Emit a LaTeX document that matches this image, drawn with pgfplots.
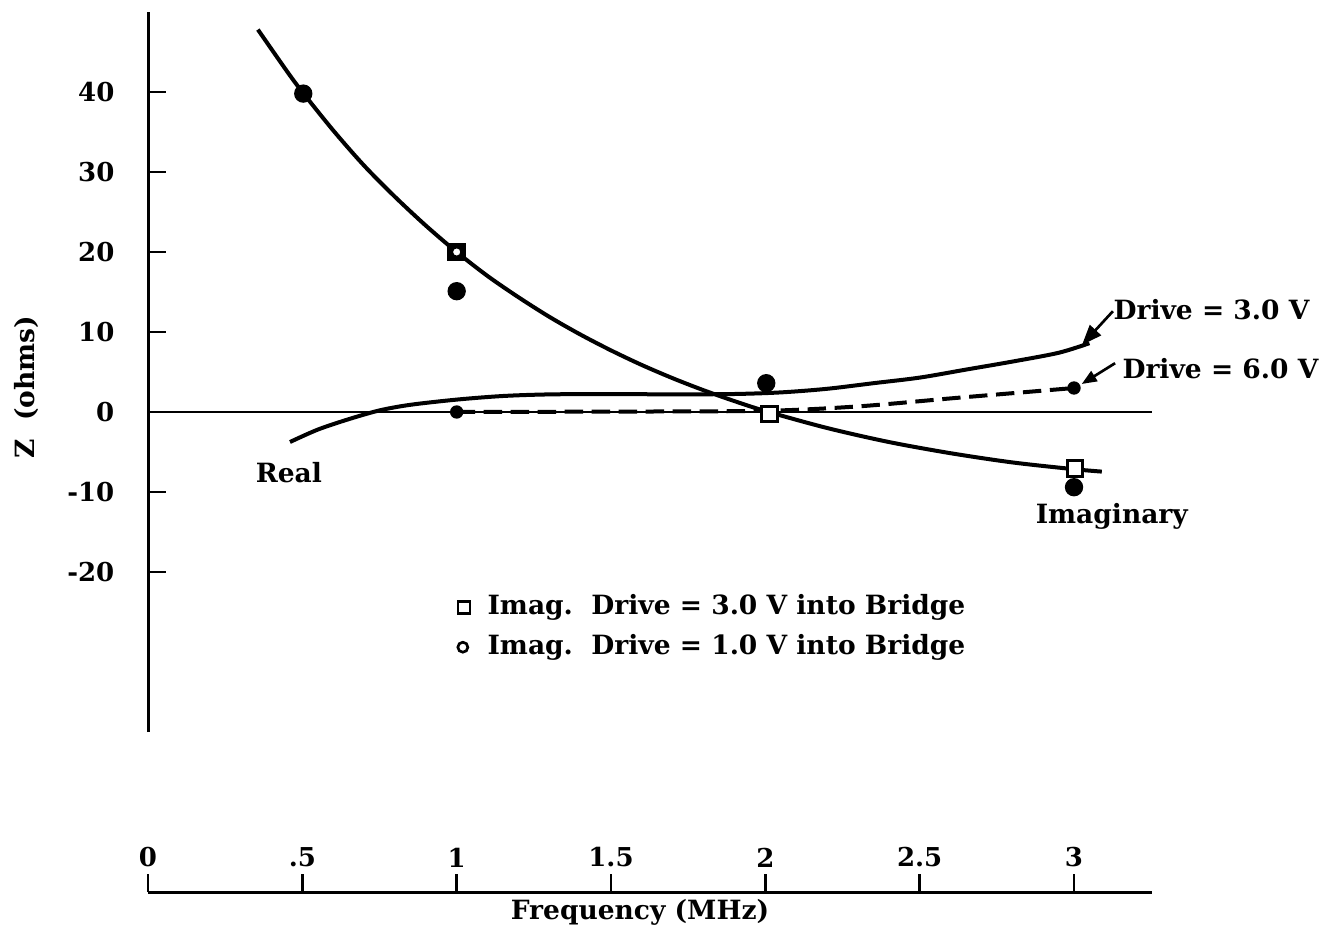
\documentclass[border=0pt]{standalone}
\usepackage{pgfplots}
\pgfplotsset{compat=1.18}
\usepackage{fontspec}
\setmainfont{DejaVu Serif}
\usetikzlibrary{arrows.meta}

\begin{document}
\fontsize{7.95pt}{10pt}\selectfont\bfseries
\begin{tikzpicture}
\begin{axis}[
  scale only axis,
  x=92.6pt, y=2.4pt,
  xmin=0, xmax=3.253, ymin=-60, ymax=50,
  axis x line*=bottom, axis y line*=left,
  y axis line style={draw=none},
  x axis line style={line width=0.9pt},
  clip=false,
  tick align=inside,
  major tick length=5.5pt,
  tick style={line width=0.8pt, black},
  xtick={0,0.5,1,1.5,2,2.5,3},
  xticklabels={0,.5,1,1.5,2,2.5,3},
  xticklabel style={anchor=south, inner sep=0pt, yshift=7.2pt, font=\fontsize{7.8pt}{9pt}\selectfont\bfseries},
  ytick={-20,-10,0,10,20,30,40},
  yticklabels={-20,-10,0,10,20,30,40},
  yticklabel style={anchor=east, inner sep=0pt, xshift=-9.9pt, font=\fontsize{7.8pt}{9pt}\selectfont\bfseries},
  /pgf/number format/assume math mode=true,
]
% y axis line (only from -40 to 50)
\draw[line width=0.9pt] (axis cs:0,-40) -- (axis cs:0,50);
% zero line
\addplot[black, line width=0.6pt] coordinates {(0,0) (3.253,0)};

% Imaginary
\addplot[black, line width=1.2pt, smooth, tension=0.5] coordinates {
(0.356,47.8) (0.45,42.6) (0.5,40.0) (0.6,35.2) (0.7,30.8) (0.8,26.9) (0.9,23.3)
(1.0,20.0) (1.1,17.0) (1.2,14.35) (1.3,11.9) (1.4,9.7) (1.5,7.7) (1.6,5.87)
(1.7,4.22) (1.8,2.72) (1.9,1.36) (2.0,0.12) (2.2,-2.0) (2.4,-3.75) (2.6,-5.15)
(2.8,-6.3) (3.0,-7.15) (3.09,-7.45)};

% Real, drive 3.0 V
\addplot[black, line width=1.2pt, smooth, tension=0.5] coordinates {
(0.46,-3.75) (0.55,-2.2) (0.65,-0.9) (0.75,0.2) (0.85,0.9) (1.0,1.55) (1.15,2.0)
(1.3,2.2) (1.5,2.25) (1.7,2.2) (1.9,2.25) (2.05,2.45) (2.2,2.9) (2.35,3.6)
(2.5,4.3) (2.65,5.3) (2.8,6.3) (2.95,7.4) (3.05,8.6)};

% Real, drive 6.0 V (dashed)
\addplot[black, line width=1.2pt, dash pattern=on 5.5pt off 2.6pt, smooth, tension=0.5] coordinates {
(1.0,0) (1.5,0.05) (2.0,0.15) (2.3,0.7) (2.6,1.7) (2.8,2.35) (3.0,3.0)};

% big filled circles
\addplot[only marks, mark=*, mark size=2.55pt, black] coordinates {
(0.503,39.8) (1.0,15.1) (2.003,3.6) (3.0,-9.4)};
% small dots
\addplot[only marks, mark=*, mark size=1.8pt, black] coordinates {
(1.0,0) (3.0,3.0)};
% open squares
\addplot[only marks, mark=square*, mark size=2.3pt, black, line width=0.9pt,
  mark options={fill=white}] coordinates {
(2.013,-0.25) (3.003,-7.06)};
% square with circle at 1.0
\addplot[only marks, mark=square*, mark size=2.6pt, black] coordinates {(1.0,20)};
\addplot[only marks, mark=*, mark size=1.3pt, draw=none, fill=white,
  mark options={draw=none, fill=white}] coordinates {(1.0,20)};

% legend markers
\addplot[only marks, mark=square, mark size=1.8pt, black, line width=0.8pt] coordinates {(1.024,-24.4)};
\addplot[only marks, mark=o, mark size=1.5pt, black, line width=0.8pt] coordinates {(1.02,-29.4)};
\node[anchor=base west, inner sep=0pt] at (axis cs:1.098,-25.3) {Imag.\ \ Drive = 3.0 V into Bridge};
\node[anchor=base west, inner sep=0pt] at (axis cs:1.098,-30.3) {Imag.\ \ Drive = 1.0 V into Bridge};

% annotations
\node[anchor=base west, inner sep=0pt] at (axis cs:3.126,11.6) {Drive = 3.0 V};
\node[anchor=base west, inner sep=0pt] at (axis cs:3.155,4.25) {Drive = 6.0 V};
\draw[line width=0.8pt, -{Triangle[length=6pt,width=4.5pt]}] (axis cs:3.126,12.6) -- (axis cs:3.026,8.4);
\draw[line width=0.8pt, -{Triangle[length=4.5pt,width=3.5pt]}] (axis cs:3.133,6.1) -- (axis cs:3.025,3.5);
\node[anchor=base west, inner sep=0pt] at (axis cs:0.347,-8.75) {Real};
\node[anchor=base west, inner sep=0pt] at (axis cs:2.874,-13.9) {Imaginary};

% axis labels
\node[anchor=center, inner sep=0pt] at (axis cs:1.594,-62.6) {Frequency (MHz)};
\node[rotate=90, anchor=base, inner sep=0pt] at (axis cs:-0.369,3.1) {Z\ \ (ohms)};

% page extent
\path (axis cs:-0.4795,-65) rectangle (axis cs:3.8423,51.5);
\end{axis}
\end{tikzpicture}
\end{document}
